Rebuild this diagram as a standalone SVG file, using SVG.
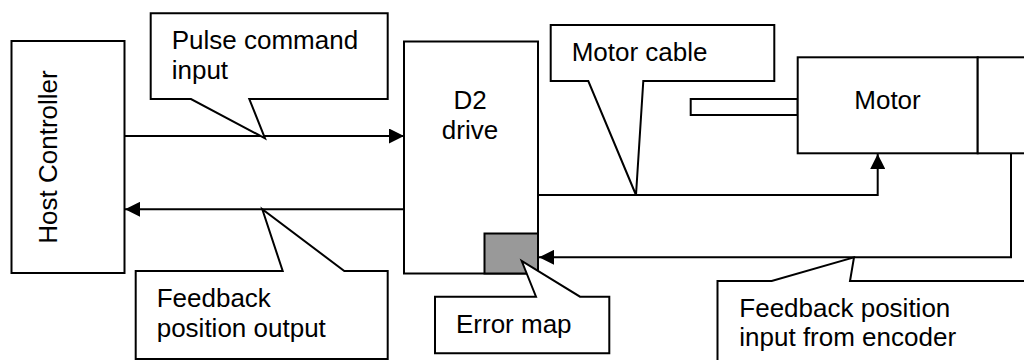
<svg xmlns="http://www.w3.org/2000/svg" width="1024" height="360" viewBox="0 0 1024 360">
<style>
.box{fill:#fff;stroke:#000;stroke-width:2}
.call{fill:#fff;stroke:#000;stroke-width:2;stroke-linejoin:miter}
.ln{fill:none;stroke:#000;stroke-width:2}
text{font-family:"Liberation Sans",Arial,sans-serif;font-size:26px;fill:#000}
</style>
<defs>
<marker id="ah" viewBox="0 0 15 15" refX="15" refY="7.5" markerWidth="15" markerHeight="15" markerUnits="userSpaceOnUse" orient="auto">
<path d="M0,0 L15,7.5 L0,15 Z" fill="#000"/>
</marker>
</defs>
<rect width="1024" height="360" fill="#fff"/>
<g id="host">
<rect class="box" x="11.5" y="41" width="113" height="232"/>
<text transform="translate(57,157) rotate(-90)" text-anchor="middle">Host Controller</text>
</g>
<g id="d2">
<rect class="box" x="404" y="41.5" width="134" height="232"/>
<text x="470" y="108.7" text-anchor="middle">D2</text>
<text x="470" y="138.5" text-anchor="middle">drive</text>
</g>
<g id="errmap">
<rect x="484.5" y="233.5" width="53.5" height="40" fill="#999" stroke="#000" stroke-width="2"/>
</g>
<g id="motor">
<rect class="box" x="690.7" y="99" width="107" height="16"/>
<rect class="box" x="797.7" y="57.3" width="180" height="96"/>
<text x="887.5" y="109" text-anchor="middle">Motor</text>
</g>
<g id="encoder">
<rect class="box" x="977.7" y="57.3" width="60" height="96"/>
</g>
<g id="connectors">
<line class="ln" x1="124.5" y1="136" x2="404" y2="136" marker-end="url(#ah)"/>
<line class="ln" x1="404" y1="209.3" x2="125" y2="209.3" marker-end="url(#ah)"/>
<polyline class="ln" points="538,195 877.7,195 877.7,154" marker-end="url(#ah)"/>
<polyline class="ln" points="1011,153.3 1011,257.3 539,257.3" marker-end="url(#ah)"/>
</g>
<g id="callout-pulse">
<path class="call" d="M150.7,13.3 H387.7 V99 H249.3 L265,138.3 L191,99 H150.7 Z"/>
<text x="171.7" y="49.3">Pulse command</text>
<text x="171.7" y="79.3">input</text>
</g>
<g id="callout-feedback-out">
<path class="call" d="M135.7,271 H282.7 L262.3,209.3 L344.3,271 H387.7 V359 H135.7 Z"/>
<text x="156.7" y="306.7">Feedback</text>
<text x="156.7" y="336.7">position output</text>
</g>
<g id="callout-cable">
<path class="call" d="M550.7,25 H774.3 V81 H643.3 L636,195 L588.3,81 H550.7 Z"/>
<text x="571.7" y="61">Motor cable</text>
</g>
<g id="callout-error">
<path class="call" d="M435,296.7 H536 L521.7,261 L580,296.7 H609.3 V353.3 H435 Z"/>
<text x="456" y="333.3">Error map</text>
</g>
<g id="callout-feedback-in">
<path class="call" d="M717.5,281 H771.7 L854,257.3 L850,281 H1030 V370 H717.5 Z"/>
<text x="739.3" y="316.7">Feedback position</text>
<text x="739.3" y="345.7">input from encoder</text>
</g>
</svg>
